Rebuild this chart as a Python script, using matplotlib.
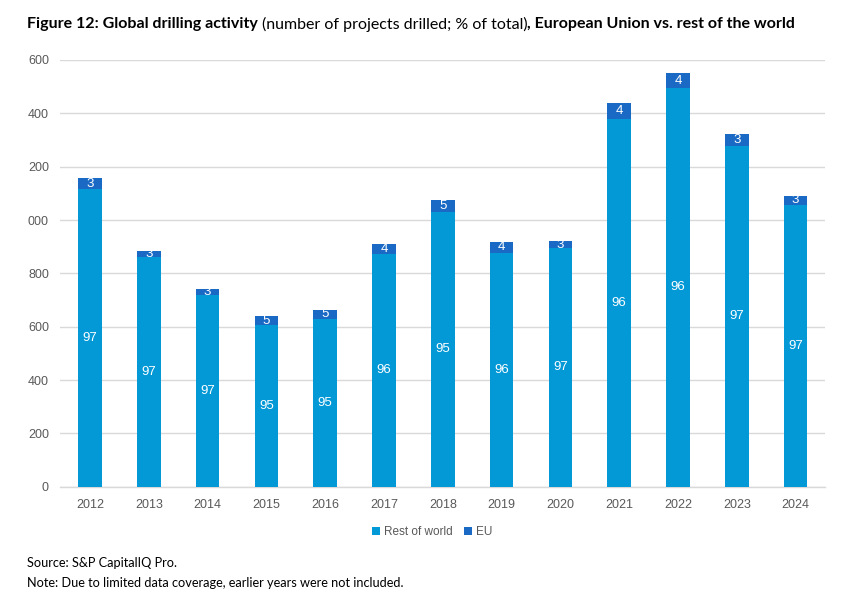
import matplotlib
matplotlib.use("Agg")
import matplotlib.pyplot as plt
import numpy as np

years = ["2012", "2013", "2014", "2015", "2016", "2017", "2018",
         "2019", "2020", "2021", "2022", "2023", "2024"]
rest_of_world = [1117, 861, 719, 606, 629, 873, 1029, 878, 894, 1379, 1495, 1278, 1056]
eu = [39, 24, 24, 34, 34, 37, 46, 40, 27, 59, 56, 45, 35]
row_pct = [97, 97, 97, 95, 95, 96, 95, 96, 97, 96, 96, 97, 97]
eu_pct = [3, 3, 3, 5, 5, 4, 5, 4, 3, 4, 4, 3, 3]
ytick_values = [0, 200, 400, 600, 800, 1000, 1200, 1400, 1600]
ytick_labels = ["0", "200", "400", "600", "800", "000", "200", "400", "600"]

ROW_COLOR = "#0398D6"
EU_COLOR = "#1A6AC5"
GRAY = "#595959"

fig = plt.figure(figsize=(8.45, 6.04), dpi=100)
ax = fig.add_axes([60 / 845, (604 - 486.7) / 604, 765 / 845, 426.7 / 604])

x = np.arange(len(years))
w = 0.40
b1 = ax.bar(x, rest_of_world, width=w, color=ROW_COLOR, label="Rest of world", zorder=3)
b2 = ax.bar(x, eu, width=w, bottom=rest_of_world, color=EU_COLOR, label="EU", zorder=3)

for i in range(len(years)):
    ax.text(x[i], rest_of_world[i] / 2, str(row_pct[i]), ha="center", va="center",
            color="white", fontsize=9.5, family="Liberation Sans", zorder=4)
    ax.text(x[i], rest_of_world[i] + eu[i] / 2, str(eu_pct[i]), ha="center", va="center",
            color="white", fontsize=9.5, family="Liberation Sans", zorder=4)

ax.set_xlim(-0.51, 12.5)
ax.set_ylim(0, 1600)
ax.set_yticks(ytick_values)
ax.set_yticklabels(ytick_labels)
ax.set_xticks(x)
ax.set_xticklabels(years)
ax.yaxis.grid(True, color="#D9D9D9", linewidth=1.0, zorder=0)
ax.set_axisbelow(True)
for s in ["top", "right", "left"]:
    ax.spines[s].set_visible(False)
ax.spines["bottom"].set_color("#D9D9D9")
ax.spines["bottom"].set_linewidth(1.0)
ax.tick_params(axis="both", length=0, colors=GRAY, labelsize=9)
ax.tick_params(axis="y", pad=8)
ax.tick_params(axis="x", pad=9)
for lab in ax.get_xticklabels() + ax.get_yticklabels():
    lab.set_family("Liberation Sans")

leg = fig.legend(handles=[b1, b2], labels=["Rest of world", "EU"], loc="center",
                 bbox_to_anchor=(432 / 845, 1 - 532 / 604), ncol=2, frameon=False,
                 handlelength=0.7, handleheight=0.7, handletextpad=0.3, columnspacing=1.0,
                 prop={"family": "Liberation Sans", "size": 8.5})
for t in leg.get_texts():
    t.set_color(GRAY)

# Title with mixed weights
fig.canvas.draw()
renderer = fig.canvas.get_renderer()
parts = [("Figure 12: Global drilling activity ", "bold"),
         ("(number of projects drilled; % of total)", "normal"),
         (", European Union vs. rest of the world", "bold")]
xpos = 27
ypix = 24
for txt, wt in parts:
    t = fig.text(xpos / 845, 1 - ypix / 604, txt, fontsize=11.55, fontweight=wt,
                 family="Lato", color="black", va="center", ha="left")
    bb = t.get_window_extent(renderer=renderer)
    xpos += bb.width

fig.text(27 / 845, 1 - 563 / 604, "Source: S&P CapitalIQ Pro.", fontsize=9.2,
         family="Lato", color="black", va="center", ha="left")
fig.text(27 / 845, 1 - 583 / 604, "Note: Due to limited data coverage, earlier years were not included.",
         fontsize=9.2, family="Lato", color="black", va="center", ha="left")

fig.savefig("out.png", dpi=100)
